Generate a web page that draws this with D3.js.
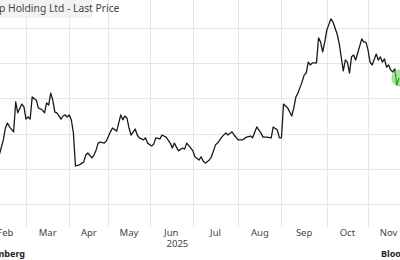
<!DOCTYPE html>
<html>
<head>
<meta charset="utf-8">
<script src="https://cdn.jsdelivr.net/npm/d3@7"></script>
<style>
  body { margin: 0; background: #fff; }
  svg { display: block; font-family: "Noto Sans", "DejaVu Sans", sans-serif; }
</style>
</head>
<body>
<svg></svg>
<script>
var width = 400;
var height = 260;

// HK exchange holidays, the x axis runs on trading days
var holidays = ["2025-01-01", "2025-01-29", "2025-01-30", "2025-01-31",
                "2025-04-04", "2025-04-18", "2025-04-21", "2025-05-01",
                "2025-05-05", "2025-07-01", "2025-10-01", "2025-10-07",
                "2025-10-29"];

var months = ["Feb", "Mar", "Apr", "May", "Jun", "Jul", "Aug", "Sep", "Oct", "Nov"];
var monthStarts = ["2025-02-01", "2025-03-01", "2025-04-01", "2025-05-01", "2025-06-01",
                   "2025-07-01", "2025-08-01", "2025-09-01", "2025-10-01", "2025-11-01",
                   "2025-12-01"];
var yearLabel = "2025";
var yTicks = [10, 11, 12, 13, 14, 15];

var dates = [
  "2025-02-11","2025-02-12","2025-02-14","2025-02-17","2025-02-18","2025-02-19","2025-02-21",
  "2025-02-24","2025-02-25","2025-02-27","2025-02-28","2025-03-03","2025-03-04","2025-03-05",
  "2025-03-06","2025-03-10","2025-03-11","2025-03-13","2025-03-14","2025-03-17","2025-03-18",
  "2025-03-19","2025-03-20","2025-03-21","2025-03-24","2025-03-26","2025-03-27","2025-03-28",
  "2025-03-31","2025-04-01","2025-04-02","2025-04-03","2025-04-07","2025-04-09","2025-04-10",
  "2025-04-11","2025-04-14","2025-04-15","2025-04-17","2025-04-22","2025-04-23","2025-04-24",
  "2025-04-25","2025-04-29","2025-04-30","2025-05-06","2025-05-07","2025-05-09","2025-05-12",
  "2025-05-13","2025-05-14","2025-05-15","2025-05-16","2025-05-19","2025-05-20","2025-05-22",
  "2025-05-23","2025-05-26","2025-05-28","2025-05-29","2025-05-30","2025-06-03","2025-06-04",
  "2025-06-05","2025-06-09","2025-06-10","2025-06-12","2025-06-16","2025-06-17","2025-06-18",
  "2025-06-20","2025-06-24","2025-06-25","2025-06-26","2025-06-30","2025-07-02","2025-07-03",
  "2025-07-07","2025-07-08","2025-07-09","2025-07-10","2025-07-14","2025-07-15","2025-07-17",
  "2025-07-18","2025-07-22","2025-07-24","2025-07-25","2025-07-29","2025-07-30","2025-08-01",
  "2025-08-05","2025-08-07","2025-08-11","2025-08-12","2025-08-14","2025-08-18","2025-08-19",
  "2025-08-21","2025-08-25","2025-08-26","2025-08-28","2025-08-29","2025-09-01","2025-09-02",
  "2025-09-04","2025-09-08","2025-09-09","2025-09-10","2025-09-11","2025-09-15","2025-09-16",
  "2025-09-17","2025-09-18","2025-09-19","2025-09-22","2025-09-24","2025-09-25","2025-09-26",
  "2025-09-29","2025-09-30","2025-10-02","2025-10-06","2025-10-08","2025-10-10","2025-10-13",
  "2025-10-14","2025-10-15","2025-10-16","2025-10-17","2025-10-20","2025-10-21","2025-10-22",
  "2025-10-23","2025-10-24","2025-10-28","2025-10-30","2025-10-31","2025-11-03","2025-11-04",
  "2025-11-05","2025-11-07","2025-11-10","2025-11-11","2025-11-12","2025-11-13","2025-11-14",
  "2025-11-17","2025-11-18","2025-11-19","2025-11-20","2025-11-21","2025-11-24"];

var prices = [
  11.20,11.39,11.82,12.16,12.30,12.19,12.05,
  12.90,12.59,12.84,12.76,12.41,12.47,12.41,
  13.04,12.95,12.73,12.67,12.59,12.87,12.81,
  13.15,12.95,12.61,12.59,12.41,12.50,12.53,
  12.47,12.53,12.39,12.02,11.08,11.11,11.16,
  11.19,11.39,11.45,11.31,11.39,11.53,11.73,
  11.76,11.73,11.79,12.05,12.16,12.07,12.30,
  12.53,12.39,12.50,12.44,12.16,11.96,12.13,
  11.96,11.88,11.82,11.88,11.73,11.65,11.70,
  11.88,11.85,11.96,11.90,11.73,11.59,11.73,
  11.51,11.59,11.56,11.73,11.59,11.51,11.34,
  11.25,11.34,11.22,11.16,11.25,11.34,11.68,
  11.73,11.90,12.02,11.96,12.05,11.96,11.82,
  11.82,11.90,11.93,11.88,12.19,12.02,11.90,
  11.90,11.88,12.19,12.10,11.88,11.88,12.84,
  12.73,12.50,12.73,13.04,13.15,13.47,13.66,
  13.72,14.03,13.95,14.01,14.01,14.72,14.60,
  14.32,14.60,14.94,15.26,15.17,14.83,14.57,
  14.18,13.78,14.09,14.03,13.72,14.18,14.23,
  14.09,14.29,14.69,14.60,14.60,14.38,14.03,
  13.95,14.26,14.09,14.18,14.03,14.12,13.89,
  13.95,13.81,13.75,13.84,13.38,13.58];

var fmt = d3.utcFormat("%Y-%m-%d");
var parse = d3.utcParse("%Y-%m-%d");

// trading calendar: weekdays minus holidays, each day gets an index
var tradingDays = d3.utcDays(parse("2025-01-01"), parse("2025-12-31"))
  .filter(function(d) { return d.getUTCDay() != 0 && d.getUTCDay() != 6 && holidays.indexOf(fmt(d)) < 0; });
var dayIndex = {};
tradingDays.forEach(function(d, i) { dayIndex[fmt(d)] = i; });

// first trading day on/after a date
function indexOn(s) {
  var t = parse(s);
  return d3.bisector(function(d) { return d; }).left(tradingDays, t);
}

var data = dates.map(function(d, i) { return { date: d, idx: dayIndex[d], price: prices[i] }; });

var scaleX = d3.scaleLinear()
  .domain([indexOn("2025-03-01"), indexOn("2025-11-01")])
  .range([26, 368]);

var scaleY = d3.scaleLinear()
  .domain([10, 15])
  .range([204, 28]);

var svg = d3.select("svg")
  .attr("width", width)
  .attr("height", height);

// horizontal grid
svg.append("g")
  .attr("class", "yGrid")
  .selectAll("line")
  .data(yTicks)
  .enter().append("line")
  .attr("x1", 0).attr("x2", width)
  .attr("y1", function(d) { return Math.round(scaleY(d)) + 0.5; })
  .attr("y2", function(d) { return Math.round(scaleY(d)) + 0.5; })
  .attr("stroke", "#e6e6e6")
  .attr("stroke-width", 1);

// month boundaries
svg.append("g")
  .attr("class", "xGrid")
  .selectAll("line")
  .data(monthStarts.slice(1, -1))
  .enter().append("line")
  .attr("x1", function(d) { return Math.round(scaleX(indexOn(d))) + 0.5; })
  .attr("x2", function(d) { return Math.round(scaleX(indexOn(d))) + 0.5; })
  .attr("y1", 0).attr("y2", 227)
  .attr("stroke", "#e6e6e6")
  .attr("stroke-width", 1);

// month labels centred in each month
svg.append("g")
  .attr("class", "xAxis")
  .selectAll("text")
  .data(months)
  .enter().append("text")
  .attr("x", function(d, i) { return scaleX((indexOn(monthStarts[i]) + indexOn(monthStarts[i + 1])) / 2); })
  .attr("y", 236)
  .attr("text-anchor", "middle")
  .attr("font-size", 9.5)
  .attr("fill", "#444")
  .text(function(d) { return d; });

svg.append("text")
  .attr("x", scaleX((indexOn("2025-01-01") + indexOn("2025-11-28")) / 2) + 1)
  .attr("y", 247)
  .attr("text-anchor", "middle")
  .attr("font-size", 9.5)
  .attr("fill", "#444")
  .text(yearLabel);

var line = d3.line()
  .x(function(d) { return scaleX(d.idx); })
  .y(function(d) { return scaleY(d.price); });

svg.append("path")
  .datum(data)
  .attr("d", line)
  .attr("fill", "none")
  .attr("stroke", "#1a1a1a")
  .attr("stroke-width", 1.3)
  .attr("stroke-linejoin", "round");

// last price marker
var last = data[data.length - 1];
svg.append("circle")
  .attr("cx", scaleX(last.idx) + 1)
  .attr("cy", scaleY(last.price))
  .attr("r", 8)
  .attr("fill", "#66dd55")
  .attr("fill-opacity", 0.6)
  .attr("stroke", "#55cc44")
  .attr("stroke-opacity", 0.5);

// title tab
svg.append("rect")
  .attr("x", 0).attr("y", 0)
  .attr("width", 92).attr("height", 18)
  .attr("fill", "#f2f2f2");

svg.append("text")
  .attr("x", -1)
  .attr("y", 12)
  .attr("font-size", 10.3)
  .attr("fill", "#444")
  .text("p Holding Ltd - Last Price");

// source
svg.append("text")
  .attr("x", 25)
  .attr("y", 257)
  .attr("text-anchor", "end")
  .attr("font-size", 9)
  .attr("font-weight", "bold")
  .attr("fill", "#222")
  .text("Bloomberg");

svg.append("text")
  .attr("x", 381)
  .attr("y", 257)
  .attr("font-size", 9)
  .attr("font-weight", "bold")
  .attr("fill", "#222")
  .text("Bloomberg");
</script>
</body>
</html>
